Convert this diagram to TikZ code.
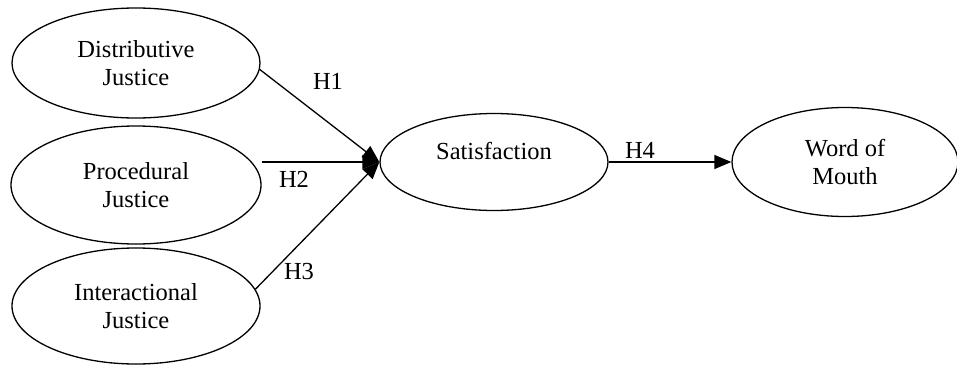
\documentclass[tikz,border=0pt]{standalone}
\usepackage{fontspec}
\setmainfont{Liberation Serif}
\usetikzlibrary{arrows.meta, shapes.geometric, positioning}

\begin{document}
\begin{tikzpicture}[
        x=1pt, y=-1pt,
        line width=1.3pt,
        % Set the overall look of the model
        construct/.style={draw, ellipse, inner sep=0pt, align=center,
            font=\fontsize{24.5}{28}\selectfont},
        path/.style={-{Triangle[length=17pt,width=14pt]}},
        hyp/.style={font=\fontsize{24.5}{28}\selectfont}
    ]
    \useasboundingbox (0,0) rectangle (957,364);

    % exogenous constructs
    \node[construct, minimum width=248pt, minimum height=110pt] (distributive) at (136,63) {Distributive\\Justice};
    \node[construct, minimum width=250pt, minimum height=118pt] (procedural) at (136,185) {Procedural\\Justice};
    \node[construct, minimum width=248pt, minimum height=116pt] (interactional) at (136,306) {Interactional\\Justice};

    % mediator and outcome
    \node[construct, minimum width=228pt, minimum height=97pt] (satisfaction) at (494,162) {Satisfaction\\[-6pt]~};
    \node[construct, minimum width=226pt, minimum height=109pt] (wom) at (845,162) {Word of\\Mouth};

    % hypothesised paths
    \draw[path] (distributive.-3) -- (satisfaction.west);
    \draw[path] (procedural.east |- satisfaction.west) -- (satisfaction.west);
    \draw[path] (interactional.8) -- (satisfaction.west);
    \draw[path] (satisfaction.east) -- (wom.west);

    \node[hyp] (h1) at (328,81) {H1};
    \node[hyp] (h2) at (294,179) {H2};
    \node[hyp] (h3) at (299,272) {H3};
    \node[hyp] (h4) at (640,150) {H4};
\end{tikzpicture}
\end{document}
